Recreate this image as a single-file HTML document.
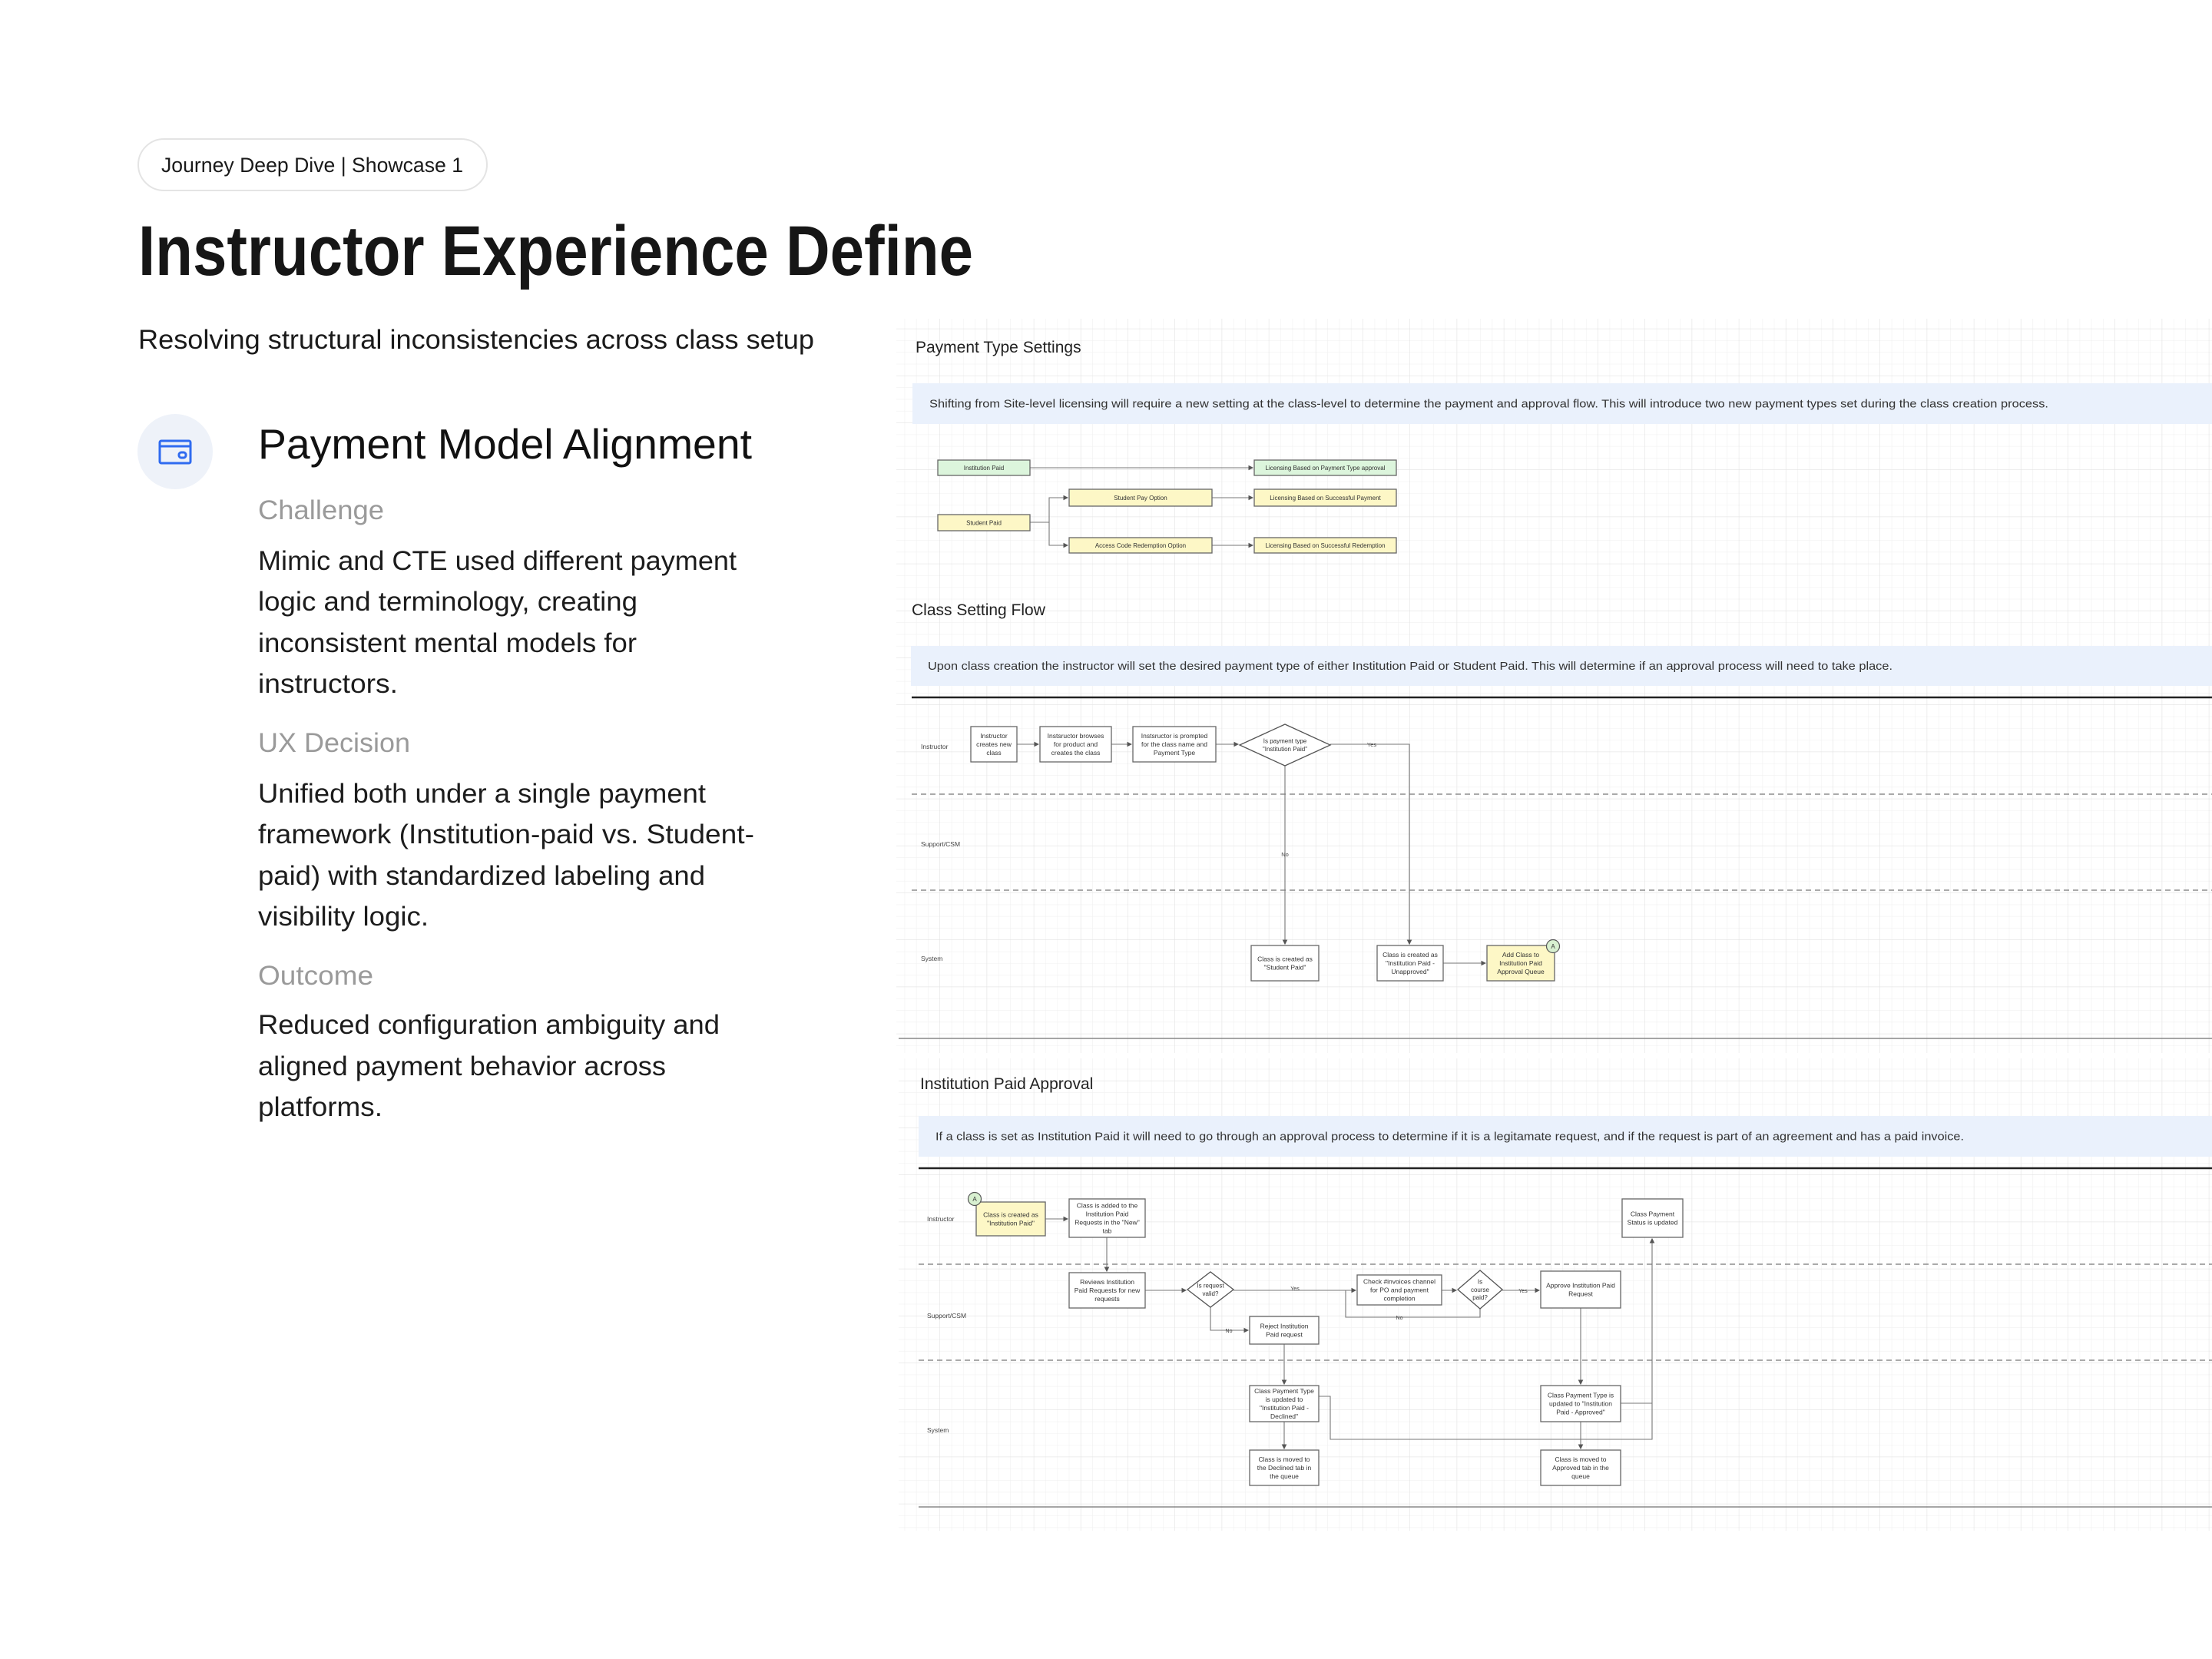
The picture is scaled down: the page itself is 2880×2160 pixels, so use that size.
<!DOCTYPE html>
<html><head><meta charset="utf-8"><style>
html,body{margin:0;padding:0;background:#fff;}
svg{display:block;}
.sans{font-family:"Liberation Sans",sans-serif;}
.nar{font-family:"Liberation Sans Narrow","Liberation Sans",sans-serif;}
</style></head><body>
<svg id="s" width="2880" height="2160" viewBox="0 0 2880 2160" xmlns="http://www.w3.org/2000/svg" class="sans">
<defs>
<pattern id="minor" width="15.3" height="15.3" patternUnits="userSpaceOnUse"><path d="M15.3 0V15.3H0" fill="none" stroke="#eeeeee" stroke-width="1"/></pattern>
<pattern id="major" width="61.2" height="61.2" patternUnits="userSpaceOnUse"><rect width="61.2" height="61.2" fill="url(#minor)"/><path d="M61.2 0V61.2H0" fill="none" stroke="#e2e2e2" stroke-width="1.2"/></pattern>
<marker id="ar" markerWidth="6" markerHeight="6" refX="5" refY="3" orient="auto"><path d="M0,0L6,3L0,6z" fill="#555"/></marker>
</defs>
<rect x="180" y="181" width="454" height="67" rx="33.5" fill="#fff" stroke="#e4e4e4" stroke-width="2"/>
<text x="210" y="224" font-size="27" fill="#1a1a1a" textLength="393" lengthAdjust="spacingAndGlyphs">Journey Deep Dive | Showcase 1</text>
<text x="180" y="358" font-size="92" font-weight="bold" fill="#161616" textLength="1087" lengthAdjust="spacingAndGlyphs">Instructor Experience Define</text>
<text x="180" y="454" font-size="35" fill="#1a1a1a" textLength="880" lengthAdjust="spacingAndGlyphs">Resolving structural inconsistencies across class setup</text>
<circle cx="228" cy="588" r="49" fill="#eef2f9"/>
<g fill="none" stroke="#2f6bf0" stroke-width="3"><rect x="208" y="574" width="40" height="29" rx="2"/><line x1="209" y1="581" x2="247" y2="581"/><rect x="233" y="589" width="9" height="7" rx="3"/></g>
<text x="336" y="597" font-size="55" fill="#111" textLength="643" lengthAdjust="spacingAndGlyphs">Payment Model Alignment</text>
<g font-size="35">
<text x="336" y="676" fill="#9a9a9a" textLength="164" lengthAdjust="spacingAndGlyphs">Challenge</text>
<text x="336" y="742" fill="#1c1c1c" textLength="623" lengthAdjust="spacingAndGlyphs">Mimic and CTE used different payment</text>
<text x="336" y="795" fill="#1c1c1c" textLength="494" lengthAdjust="spacingAndGlyphs">logic and terminology, creating</text>
<text x="336" y="849" fill="#1c1c1c" textLength="493" lengthAdjust="spacingAndGlyphs">inconsistent mental models for</text>
<text x="336" y="902" fill="#1c1c1c" textLength="182" lengthAdjust="spacingAndGlyphs">instructors.</text>
<text x="336" y="979" fill="#9a9a9a" textLength="198" lengthAdjust="spacingAndGlyphs">UX Decision</text>
<text x="336" y="1045" fill="#1c1c1c" textLength="583" lengthAdjust="spacingAndGlyphs">Unified both under a single payment</text>
<text x="336" y="1098" fill="#1c1c1c" textLength="646" lengthAdjust="spacingAndGlyphs">framework (Institution-paid vs. Student-</text>
<text x="336" y="1152" fill="#1c1c1c" textLength="582" lengthAdjust="spacingAndGlyphs">paid) with standardized labeling and</text>
<text x="336" y="1205" fill="#1c1c1c" textLength="222" lengthAdjust="spacingAndGlyphs">visibility logic.</text>
<text x="336" y="1282" fill="#9a9a9a" textLength="150" lengthAdjust="spacingAndGlyphs">Outcome</text>
<text x="336" y="1346" fill="#1c1c1c" textLength="601" lengthAdjust="spacingAndGlyphs">Reduced configuration ambiguity and</text>
<text x="336" y="1400" fill="#1c1c1c" textLength="531" lengthAdjust="spacingAndGlyphs">aligned payment behavior across</text>
<text x="336" y="1453" fill="#1c1c1c" textLength="162" lengthAdjust="spacingAndGlyphs">platforms.</text>
</g>
<rect x="1167" y="415" width="1713" height="956" fill="url(#major)"/>
<rect x="1170" y="1378" width="1710" height="615" fill="url(#major)"/>
<g id="dg"></g>
</svg>
<script>
const dg=document.getElementById('dg');
const NS='http://www.w3.org/2000/svg';
function mk(tag,attrs,parent){const e=document.createElementNS(NS,tag);for(const k in attrs)e.setAttribute(k,attrs[k]);(parent||dg).appendChild(e);return e;}
function txt(x,y,s,size,fill,anchor,cls,len){const t=mk('text',{x:x,y:y,'font-size':size,fill:fill||'#333','text-anchor':anchor||'start',class:cls||'sans'});if(len){t.setAttribute('textLength',len);t.setAttribute('lengthAdjust','spacingAndGlyphs');}t.textContent=s;return t;}
function lines(cx,cy,arr,size){const lh=size*1.3;const y0=cy-(arr.length-1)*lh/2+size*0.35;return arr.map((s,i)=>txt(cx,y0+i*lh,s,size,'#333','middle','nar'));}
function box(x1,y1,x2,y2,fill,arr,name,size){const g=mk('g',{});


mk('rect',{x:x1,y:y1,width:x2-x1,height:y2-y1,fill:fill,stroke:'#666','stroke-width':1.3},g);
const ts=lines((x1+x2)/2,(y1+y2)/2,arr,size||8.5);ts.forEach(t=>g.appendChild(t));return g;}
function dia(cx,cy,hw,hh,arr,name){const g=mk('g',{});


mk('path',{d:`M${cx-hw} ${cy}L${cx} ${cy-hh}L${cx+hw} ${cy}L${cx} ${cy+hh}Z`,fill:'#fff',stroke:'#555','stroke-width':1.3},g);
lines(cx,cy,arr,8).forEach(t=>g.appendChild(t));return g;}
function wire(pts,name,arrow){const p=mk('polyline',{points:pts.map(p=>p.join(',')).join(' '),fill:'none',stroke:'#777','stroke-width':1.1});if(arrow!==false)p.setAttribute('marker-end','url(#ar)');

return p;}
function band(x,y,w,h,s,len,name){const g=mk('g',{});


mk('rect',{x:x,y:y,width:w,height:h,fill:'#eaf1fc'},g);g.appendChild(txt(x+22,y+h/2+5,s,14.5,'#333','start','sans',len));}
function hline(y,x1,dash,w,col,name){const l=mk('line',{x1:x1,y1:y,x2:2880,y2:y,stroke:col,'stroke-width':w});if(dash)l.setAttribute('stroke-dasharray','7 5');

}
function circA(cx,cy,name){const g=mk('g',{});


mk('circle',{cx:cx,cy:cy,r:8.5,fill:'#d8f0d0',stroke:'#555','stroke-width':1.2},g);g.appendChild(txt(cx,cy+3,'A',8,'#333','middle'));}
const G='#dcf5dc',Y='#fdf7c6',W='#fff';
let t=txt(1192,459,'Payment Type Settings',21,'#222');
band(1188,499,1692,53,'Shifting from Site-level licensing will require a new setting at the class-level to determine the payment and approval flow. This will introduce two new payment types set during the class creation process.',1457,'payment-type-description');
wire([[1341,609],[1631,609]],'connector-institution');
wire([[1341,680],[1366,680],[1366,648],[1390,648]],'connector-student-pay');
wire([[1366,680],[1366,710],[1390,710]],'connector-access-code');
wire([[1578,648],[1631,648]],'connector-successful-payment');
wire([[1578,710],[1631,710]],'connector-successful-redemption');
box(1221,599,1341,619,G,['Institution Paid'],'node-institution-paid',8);
box(1221,670,1341,691,Y,['Student Paid'],'node-student-paid',8);
box(1392,637,1578,659,Y,['Student Pay Option'],'node-student-pay-option',8);
box(1392,700,1578,720,Y,['Access Code Redemption Option'],'node-access-code-option',8);
box(1633,599,1818,619,G,['Licensing Based on Payment Type approval'],'node-licensing-approval',8);
box(1633,637,1818,659,Y,['Licensing Based on Successful Payment'],'node-licensing-payment',8);
box(1633,700,1818,720,Y,['Licensing Based on Successful Redemption'],'node-licensing-redemption',8);
t=txt(1187,801,'Class Setting Flow',21,'#222');
band(1186,841,1694,52,'Upon class creation the instructor will set the desired payment type of either Institution Paid or Student Paid. This will determine if an approval process will need to take place.',1256,'class-setting-description');
hline(908,1187,false,2.5,'#222','flow-top-rule');
hline(1034,1187,true,1.3,'#777','lane-divider-1');
hline(1159,1187,true,1.3,'#777','lane-divider-2');
hline(1352,1170,false,1.5,'#888','flow-bottom-rule');
[['Instructor',975],['Support/CSM',1102],['System',1251]].forEach(([s,y])=>{const e=txt(1199,y,s,8.5,'#444','start','nar');});
wire([[1324,969],[1352,969]],'flow-arrow-1');
wire([[1447,969],[1473,969]],'flow-arrow-2');
wire([[1583,969],[1612,969]],'flow-arrow-3');
wire([[1732,969],[1835,969],[1835,1229]],'flow-yes-arrow');
wire([[1673,996],[1673,1229]],'flow-no-arrow');
wire([[1879,1254],[1934,1254]],'flow-arrow-queue');
box(1264,946,1324,992,W,['Instructor','creates new','class'],'node-creates-class');
box(1354,946,1447,992,W,['Instsructor browses','for product and','creates the class'],'node-browses-product');
box(1475,946,1583,992,W,['Instsructor is prompted','for the class name and','Payment Type'],'node-prompted');
dia(1673,970,59,27,['Is payment type','"Institution Paid"'],'decision-payment-type');
t=txt(1786,972,'Yes',7.5,'#444','middle','nar');
t=txt(1673,1115,'No',7.5,'#444','middle','nar');
box(1629,1231,1717,1277,W,['Class is created as','"Student Paid"'],'node-student-paid-created');
box(1793,1231,1879,1277,W,['Class is created as','"Institution Paid -','Unapproved"'],'node-institution-unapproved');
box(1936,1231,2024,1277,Y,['Add Class to','Institution Paid','Approval Queue'],'node-add-to-queue');
circA(2022,1232,'connector-a-top');
t=txt(1198,1418,'Institution Paid Approval',21,'#222');
band(1196,1453,1684,53,'If a class is set as Institution Paid it will need to go through an approval process to determine if it is a legitamate request, and if the request is part of an agreement and has a paid invoice.',1339,'institution-approval-description');
hline(1521,1196,false,2.5,'#222','approval-top-rule');
hline(1646,1196,true,1.3,'#777','approval-lane-divider-1');
hline(1771,1196,true,1.3,'#777','approval-lane-divider-2');
hline(1962,1196,false,1.5,'#888','approval-bottom-rule');
[['Instructor',1590],['Support/CSM',1716],['System',1865]].forEach(([s,y])=>{const e=txt(1207,y,s,8.5,'#444','start','nar');});
wire([[1361,1587],[1390,1587]],'ap-arrow-1');
wire([[1441,1611],[1441,1655]],'ap-arrow-2');
wire([[1491,1680],[1544,1680]],'ap-arrow-3');
wire([[1606,1680],[1765,1680]],'ap-yes-1');
wire([[1877,1680],[1896,1680]],'ap-arrow-4');
wire([[1956,1680],[2004,1680]],'ap-yes-2');
wire([[1927,1703],[1927,1715],[1752,1715],[1752,1680]],'ap-no-loop',false);
wire([[1576,1701],[1576,1732],[1625,1732]],'ap-no-reject');
wire([[1672,1750],[1672,1802]],'ap-arrow-declined');
wire([[1672,1851],[1672,1886]],'ap-arrow-moved-declined');
wire([[2058,1703],[2058,1802]],'ap-arrow-approved');
wire([[2058,1851],[2058,1886]],'ap-arrow-moved-approved');
wire([[1717,1818],[1732,1818],[1732,1874],[2151,1874],[2151,1613]],'ap-status-arrow');
wire([[2110,1827],[2151,1827]],'ap-approved-to-status',false);
box(1271,1565,1361,1609,Y,['Class is created as','"Institution Paid"'],'node-created-institution');
circA(1269,1561,'connector-a-bottom');
box(1392,1561,1491,1611,W,['Class is added to the','Institution Paid','Requests in the "New"','tab'],'node-added-requests');
box(1392,1657,1491,1703,W,['Reviews Institution','Paid Requests for new','requests'],'node-reviews-requests');
dia(1576,1679,30,23,['Is request','valid?'],'decision-request-valid');
box(1767,1660,1877,1699,W,['Check #invoices channel','for PO and payment','completion'],'node-check-invoices');
dia(1927,1679,29,25,['Is','course','paid?'],'decision-course-paid');
box(2006,1655,2110,1703,W,['Approve Institution Paid','Request'],'node-approve-request');
box(1627,1714,1717,1750,W,['Reject Institution','Paid request'],'node-reject-request');
box(2112,1561,2191,1611,W,['Class Payment','Status is updated'],'node-status-updated');
box(1627,1804,1717,1851,W,['Class Payment Type','is updated to','"Institution Paid -','Declined"'],'node-declined');
box(2006,1804,2110,1851,W,['Class Payment Type is','updated to "Institution','Paid - Approved"'],'node-approved');
box(1627,1888,1717,1934,W,['Class is moved to','the Declined tab in','the queue'],'node-moved-declined');
box(2006,1888,2110,1934,W,['Class is moved to','Approved tab in the','queue'],'node-moved-approved');
[['Yes',1686,1680],['No',1600,1735],['No',1822,1718],['Yes',1983,1683]].forEach(([s,x,y])=>{const e=txt(x,y,s,7,'#444','middle','nar');});
</script>
</body></html>
